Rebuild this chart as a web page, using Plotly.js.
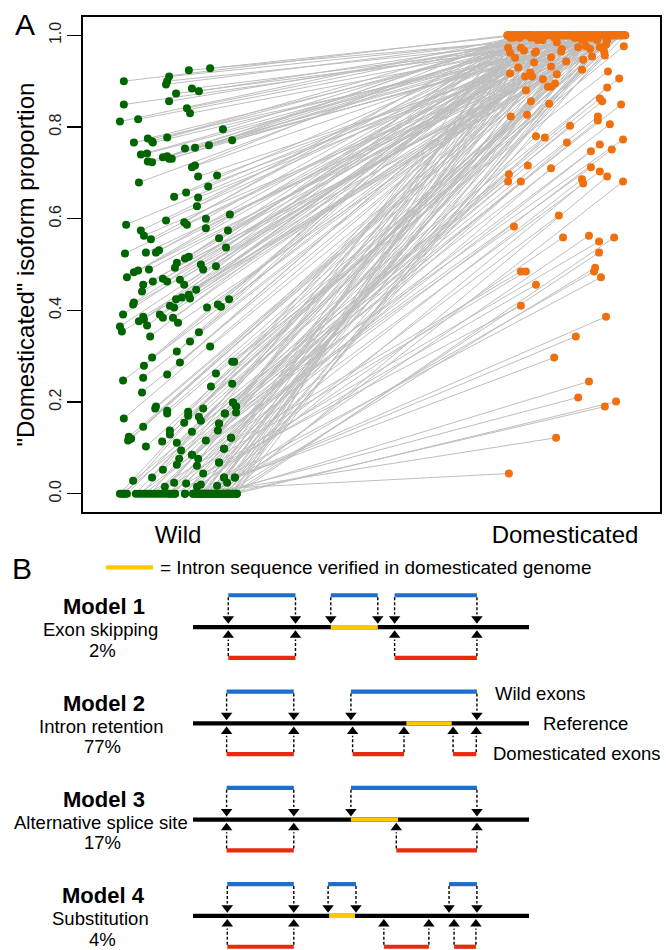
<!DOCTYPE html>
<html><head><meta charset="utf-8">
<script src="https://cdn.plot.ly/plotly-3.0.1.min.js"></script>
<style>html,body{margin:0;padding:0;background:#fff;}#chart{width:666px;height:950px;}</style>
</head><body><div id="chart"></div>
<script>
// ---------- Panel A data (pairs: wild value -> domesticated value) ----------
const categories = ['Wild', 'Domesticated'];
const yTickVals = [0, 0.2, 0.4, 0.6, 0.8, 1.0];
const yTickText = ['0.0', '0.2', '0.4', '0.6', '0.8', '1.0'];

const wildY = [
  0,0,0,0,0,0,0,0.017,0.035,0,0,0.035,0.024,0,0,0,0,0,0.044,0,0.015,0,0.020,
  0,0,0.068,0,0,0.028,0,0.098,0.085,0,0.052,
  0.122,0.076,0.177,0.116,0.061,0.024,0,0.153,0.094,0.138,0.175,0.190,0.135,0.159,0.199,0.240,0.262,0.022,0,
  0.063,0.015,0.076,0.111,0.114,0.103,0.168,0.129,0.146,0.124,0.120,0.116,0.164,0,0.138,0.288,0.234,0.288,0.186,0.170,
  0.179,0.155,0.181,0.175,0.190,0.186,0.221,0.253,0.247,0,0.260,0.286,0.279,0.297,0,0,0.310,
  0.900,0.910,0.900,0.893,0.924,0.928,0.884,0.878,0.873,0,
  0.856,0.849,0.841,0.830,0.812,0.817,0.795,0.766,0.775,0,
  0.769,0.766,0.777,0.771,0.753,0.755,0.760,0.740,0.742,0,
  0.725,0.723,0.734,0.736,0.731,0.731,0.712,0.716,0.692,0,
  0.694,0.679,0.670,0.657,0.648,0.646,0.627,0.587,0.596,0,
  0.592,0.587,0.600,0.609,0.579,0.574,0.563,0.555,0.574,0,
  0.557,0.537,0.524,0.526,0.526,0.531,0.504,0.493,0.513,0,
  0.517,0.500,0.489,0.496,0.483,0.487,0.489,0.472,0.456,0,
  0.441,0.463,0.469,0.463,0.467,0.456,0.445,0.434,0.426,0,
  0.424,0.428,0.417,0.413,0.410,0.406,0.424,0.406,0.413,0,
  0.408,0.391,0.386,0.380,0.376,0.391,0.384,0.367,0.384,0,
  0.373,0.365,0.354,0.343,0.352,0.332,0.321,0.035,0,
  0,0,0,0,0,0,0,0,0,0,
  0,0,0,0,0,0,0,0,0,0,
  0.122,0.153,0.175,0.190,0.199,0.098,0.085,0.068,0.035,0.035
];
const wildJitter = [
  -0.140,0.057,0.150,0.134,0.093,0.109,0.039,0.101,0.147,-0.031,-0.008,0.119,0.127,0.124,-0.054,-0.078,0.142,0.152,0.065,0.085,0.049,-0.101,0.059,
  0.116,0.070,0.106,-0.085,-0.145,-0.116,0.129,0.119,0.036,-0.016,-0.039,
  0.137,0.052,0.150,0.072,0.049,-0.010,-0.062,0.106,0.008,0.103,0.121,0.150,0.036,0.059,0.142,0.140,0.098,0.021,-0.132,
  -0.003,-0.034,0.003,-0.003,-0.041,-0.083,0.054,-0.021,-0.090,-0.127,-0.121,-0.129,-0.140,-0.150,-0.021,0.145,0.085,0.140,0.065,0.026,
  0.026,0.016,-0.028,-0.028,-0.057,-0.059,-0.093,-0.090,-0.142,-0.109,-0.028,0.005,-0.088,-0.067,-0.093,-0.070,-0.003,
  -0.140,-0.023,-0.028,-0.031,0.028,0.083,0.036,0.054,-0.005,-0.137,
  -0.023,-0.140,0.023,0.031,-0.150,-0.103,0.116,-0.114,-0.078,-0.047,
  -0.067,-0.065,-0.028,0.140,0.018,0.044,0.080,-0.096,-0.080,-0.039,
  -0.078,-0.067,-0.039,-0.028,-0.023,-0.016,0.036,0.044,0.052,-0.023,
  0.101,-0.101,0.078,0.021,-0.010,0.052,0.049,-0.134,-0.031,-0.021,
  0.016,0.023,0.072,0.134,0.072,-0.096,-0.088,-0.070,0.129,0.018,
  0.106,0.124,-0.137,-0.083,-0.057,-0.049,-0.003,-0.008,0.018,0.047,
  0.028,0.059,0.065,0.098,-0.114,-0.103,-0.075,-0.132,-0.090,0.054,
  -0.093,-0.065,-0.039,-0.028,0.005,0.016,0.047,0.028,0.031,0.062,
  -0.005,0.010,-0.114,-0.116,-0.021,-0.010,0.132,0.075,0.103,0.078,
  0.111,-0.142,-0.090,-0.088,-0.101,-0.047,-0.039,-0.080,-0.013,0.096,
  0,-0.150,-0.145,-0.072,0.054,0.031,0.083,-0.067,0.101,
  0.152,0.150,0.142,0.134,0.129,0.124,0.119,0.116,0.109,0.101,
  0.093,0.085,0.078,0.070,0.065,0.057,0.049,0.039,0.018,-0.008,
  0.137,0.106,0.121,0.150,0.142,0.119,0.036,0.106,0.147,0.119
];
const domY = [
  0.044,0.122,0.201,0.190,0.210,0.245,0.297,0.343,0.386,0.410,0.456,0.472,0.485,0.493,0.485,0.485,0.526,0.559,0.550,0.563,0.559,0.583,0.607,
  0.681,0.677,0.686,0.681,0.681,0.697,0.692,0.703,0.712,0.710,0.716,
  0.751,0.747,0.773,0.762,0.766,0.777,0.780,0.806,0.803,0.814,0.823,0.849,0.856,0.862,0.886,0.906,0.921,0.827,0.823,
  0.851,0.856,0.880,0.895,0.888,0.888,0.925,0.915,0.932,0.904,0.910,0.919,0.910,0.917,0.930,0.976,0.956,0.980,0.965,0.974,
  0.954,0.970,0.976,0.947,0.974,0.943,0.970,0.965,0.952,0.941,0.965,0.962,0.967,0.973,0.951,0.962,0.973,
  1,1,1,0.995,1,1,1,1,0.99,1,
  1,1,1,1,0.995,1,1,1,1,1,
  1,0.99,1,1,1,1,0.995,1,1,1,
  1,1,1,1,1,0.99,1,1,1,1,
  0.995,1,1,1,1,1,1,1,0.985,1,
  1,1,1,0.99,1,1,1,1,1,1,
  1,1,0.995,1,1,1,1,1,1,0.99,
  1,1,1,1,1,0.995,1,1,1,1,
  1,1,0.99,1,1,1,1,1,0.995,1,
  1,1,1,1,0.99,1,1,1,1,1,
  1,1,0.995,1,1,1,1,0.99,1,1,
  1,1,1,1,0.995,1,1,1,1,
  1,1,1,1,0.995,1,1,1,1,1,
  1,1,1,0.995,1,1,1,1,1,1,
  1,1,1,1,1,1,0.995,1,1,1
];
const domJitter = [
  -0.145,-0.023,0.132,0.103,0.034,0.062,-0.028,0.028,0.106,-0.114,-0.075,0.093,0.075,0.078,-0.101,-0.114,0.088,0.127,0.088,0.062,-0.005,-0.132,-0.016,
  0.150,0.047,0.044,-0.114,-0.147,-0.145,0.109,0.090,0.067,-0.036,-0.096,
  0.121,0.067,0.150,0.090,0.005,-0.052,-0.075,0.116,0.013,0.085,0.085,0.145,0.096,0.090,0.109,0.140,0.111,-0.098,-0.140,
  -0.041,-0.088,-0.101,-0.026,-0.036,-0.044,0.044,-0.021,-0.036,-0.057,-0.085,-0.090,-0.103,-0.142,-0.121,0.152,0.103,0.106,0.101,0.090,
  0.070,0.065,0.054,0.047,0.034,0.003,-0.008,-0.010,-0.036,-0.080,-0.075,-0.078,-0.106,-0.114,-0.129,-0.142,-0.147,
  -0.148,0.021,0.112,-0.067,0.054,-0.120,0.139,-0.015,0.083,-0.093,
  0.006,0.127,-0.041,0.098,-0.134,0.035,-0.079,0.151,-0.004,0.066,
  -0.110,0.044,-0.052,0.118,-0.025,0.089,-0.141,0.012,0.073,-0.087,
  0.145,-0.033,0.058,-0.101,0.104,-0.060,0.029,-0.127,0.135,-0.010,
  0.079,-0.072,0.016,0.122,-0.046,0.093,-0.115,0.049,-0.021,0.156,
  -0.138,0.062,-0.083,0.108,0.002,-0.056,0.131,-0.097,0.039,-0.030,
  0.086,-0.144,0.025,0.115,-0.064,0.070,-0.006,0.142,-0.106,0.051,
  -0.037,0.097,-0.124,0.018,0.126,-0.075,0.060,-0.013,0.148,-0.091,
  0.031,-0.049,0.109,-0.131,0.076,0.009,-0.068,0.137,-0.027,0.047,
  -0.112,0.101,-0.002,0.154,-0.058,0.084,-0.146,0.037,-0.085,0.119,
  0.014,-0.043,0.068,-0.119,0.130,-0.019,0.091,-0.070,0.042,-0.136,
  0.105,-0.008,0.150,-0.053,0.027,-0.098,0.074,-0.031,0.124,
  -0.131,0.047,-0.104,0.083,-0.088,0.112,-0.071,0.139,-0.049,0.004,
  -0.022,0.061,0.008,-0.117,0.031,0.096,0.052,-0.063,0.077,-0.149,
  0.121,-0.036,0.018,-0.093,0.144,-0.007,0.068,-0.125,0.103,-0.054
];

// ---------- Panel B data (gene model diagrams, gene units 0-100) ----------
const modelNames = ['Model 1', 'Model 2', 'Model 3', 'Model 4'];
const modelDesc = ['Exon skipping', 'Intron retention', 'Alternative splice site', 'Substitution'];
const modelPct = ['2%', '77%', '17%', '4%'];
const geneSpan = [0, 100];
const wildExons = [
  [[10.5, 30.5], [41, 55], [60, 84.5]],
  [[10, 30], [47, 84.5]],
  [[10, 30], [47, 84.5]],
  [[10.2, 30], [40.2, 48.5], [76.2, 84.5]]
];
const domExons = [
  [[10.5, 30.5], [60, 84.5]],
  [[10, 30], [47.5, 62.8], [77.4, 84.3]],
  [[10, 30], [60.5, 84.5]],
  [[10.2, 30], [56.8, 70.2], [77.7, 84.2]]
];
const verifiedIntron = [[41, 55], [63.5, 77], [47, 61], [40.5, 48.2]];
const rowLabels = ['Wild exons', 'Reference', 'Domesticated exons'];
const legendText = '= Intron sequence verified in domesticated genome';

// ---------- Build traces ----------
const FONT = 'Liberation Sans, Arial, Helvetica, sans-serif';
const GREEN = '#006400', ORANGE = '#F07010', GRAY = '#BEBEBE';
const BLUE = '#1E6ECD', RED = '#EA2A0E', YELLOW = '#FFC800';

const lx = [], ly = [], wx = [], dx = [];
for (let i = 0; i < wildY.length; i++) {
  wx.push(1 + wildJitter[i]);
  dx.push(2 + domJitter[i]);
  lx.push(1 + wildJitter[i], 2 + domJitter[i], null);
  ly.push(wildY[i], domY[i], null);
}
const traces = [
  {x: lx, y: ly, mode: 'lines', type: 'scatter', line: {color: GRAY, width: 1}, xaxis: 'x', yaxis: 'y', hoverinfo: 'skip'},
  {x: wx, y: wildY, mode: 'markers', type: 'scatter', marker: {color: GREEN, size: 8}, xaxis: 'x', yaxis: 'y'},
  {x: dx, y: domY, mode: 'markers', type: 'scatter', marker: {color: ORANGE, size: 8}, xaxis: 'x', yaxis: 'y'}
];

const BLUE_OFF = -0.33, RED_OFF = 0.32;
const seg = (arr, r, color, width) => {
  const xs = [], ys = [];
  arr.forEach(e => { xs.push(e[0], e[1], null); ys.push(r, r, null); });
  return {x: xs, y: ys, mode: 'lines', type: 'scatter', line: {color: color, width: width}, xaxis: 'x2', yaxis: 'y2', hoverinfo: 'skip'};
};
const stemX = [], stemY = [], downX = [], downY = [], upX = [], upY = [];
modelNames.forEach((m, r) => {
  traces.push(seg([geneSpan], r, '#000000', 4.2));
  traces.push(seg([verifiedIntron[r]], r, YELLOW, 4.2));
  traces.push(seg(wildExons[r], r + BLUE_OFF, BLUE, 4.2));
  traces.push(seg(domExons[r], r + RED_OFF, RED, 4.2));
  wildExons[r].forEach(e => e.forEach(p => {
    stemX.push(p, p, null); stemY.push(r + BLUE_OFF + 0.02, r - 0.13, null);
    downX.push(p); downY.push(r - 0.085);
  }));
  domExons[r].forEach(e => e.forEach(p => {
    stemX.push(p, p, null); stemY.push(r + RED_OFF - 0.02, r + 0.13, null);
    upX.push(p); upY.push(r + 0.085);
  }));
});
traces.push({x: stemX, y: stemY, mode: 'lines', type: 'scatter', line: {color: '#000', width: 1.4, dash: '3px,2px'}, xaxis: 'x2', yaxis: 'y2', hoverinfo: 'skip'});
traces.push({x: downX, y: downY, mode: 'markers', type: 'scatter', marker: {symbol: 'triangle-down', size: 10, color: '#000'}, xaxis: 'x2', yaxis: 'y2'});
traces.push({x: upX, y: upY, mode: 'markers', type: 'scatter', marker: {symbol: 'triangle-up', size: 10, color: '#000'}, xaxis: 'x2', yaxis: 'y2'});
// legend swatch
traces.push({x: [-25.9, -11.9], y: [-0.62, -0.62], mode: 'lines', type: 'scatter', line: {color: YELLOW, width: 4.2}, xaxis: 'x2', yaxis: 'y2', hoverinfo: 'skip'});

const ann = [];
const a2 = (text, x, y, size, opts) => Object.assign({text: text, x: x, y: y, xref: 'x2', yref: 'y2', showarrow: false,
  font: {family: FONT, size: size, color: '#000'}, xanchor: 'center', yanchor: 'middle'}, opts || {});
modelNames.forEach((m, r) => {
  ann.push(a2('<b>' + m + '</b>', -26.5, r - 0.21, 22));
  ann.push(a2(modelDesc[r], -27.5, r + 0.03, 18.5));
  ann.push(a2(modelPct[r], -27, r + 0.24, 18.5));
});
ann.push(a2(rowLabels[0], 89.3, 1 - 0.31, 18.5, {xanchor: 'left'}));
ann.push(a2(rowLabels[1], 103.6, 1.0, 18.5, {xanchor: 'left'}));
ann.push(a2(rowLabels[2], 88.7, 1.31, 18.5, {xanchor: 'left'}));
ann.push(a2(legendText, -10.4, -0.62, 19, {xanchor: 'left'}));
ann.push(a2('B', -50.9, -0.61, 30));
ann.push({text: 'A', x: 25 / 666, y: 1 - 24 / 950, xref: 'paper', yref: 'paper', showarrow: false,
  font: {family: FONT, size: 30, color: '#000'}, xanchor: 'center', yanchor: 'middle'});
ann.push({text: '"Domesticated" isoform proportion', x: 25 / 666, y: 1 - 264.5 / 950, xref: 'paper', yref: 'paper',
  showarrow: false, textangle: -90, font: {family: FONT, size: 24, color: '#000'}, xanchor: 'center', yanchor: 'middle'});

const layout = {
  width: 666, height: 950, margin: {l: 0, r: 0, t: 0, b: 0}, showlegend: false,
  paper_bgcolor: '#fff', plot_bgcolor: '#fff', hovermode: false,
  font: {family: FONT, color: '#000'},
  xaxis: {domain: [83 / 666, 660 / 666], anchor: 'y', range: [0.7545, 2.2455], tickvals: [1, 2], ticktext: categories,
    ticks: '', showgrid: false, zeroline: false, showline: true, mirror: true, linecolor: '#000', linewidth: 2,
    tickfont: {family: FONT, size: 24, color: '#000'}},
  yaxis: {domain: [1 - 512 / 950, 1 - 17 / 950], anchor: 'x', range: [-0.04, 1.04], tickvals: yTickVals, ticktext: yTickText,
    tickangle: -90, ticks: 'outside', ticklen: 14, tickwidth: 1.5, tickcolor: '#000', showgrid: false, zeroline: false,
    showline: true, mirror: true, linecolor: '#000', linewidth: 2, tickfont: {family: FONT, size: 16, color: '#222'}},
  xaxis2: {domain: [0, 1], anchor: 'y2', range: [-57.44, 140.77], visible: false, fixedrange: true},
  yaxis2: {domain: [0, 400 / 950], anchor: 'x2', range: [3.354, -0.80], visible: false, fixedrange: true},
  annotations: ann
};
Plotly.newPlot('chart', traces, layout, {staticPlot: true, displayModeBar: false});
</script></body></html>
